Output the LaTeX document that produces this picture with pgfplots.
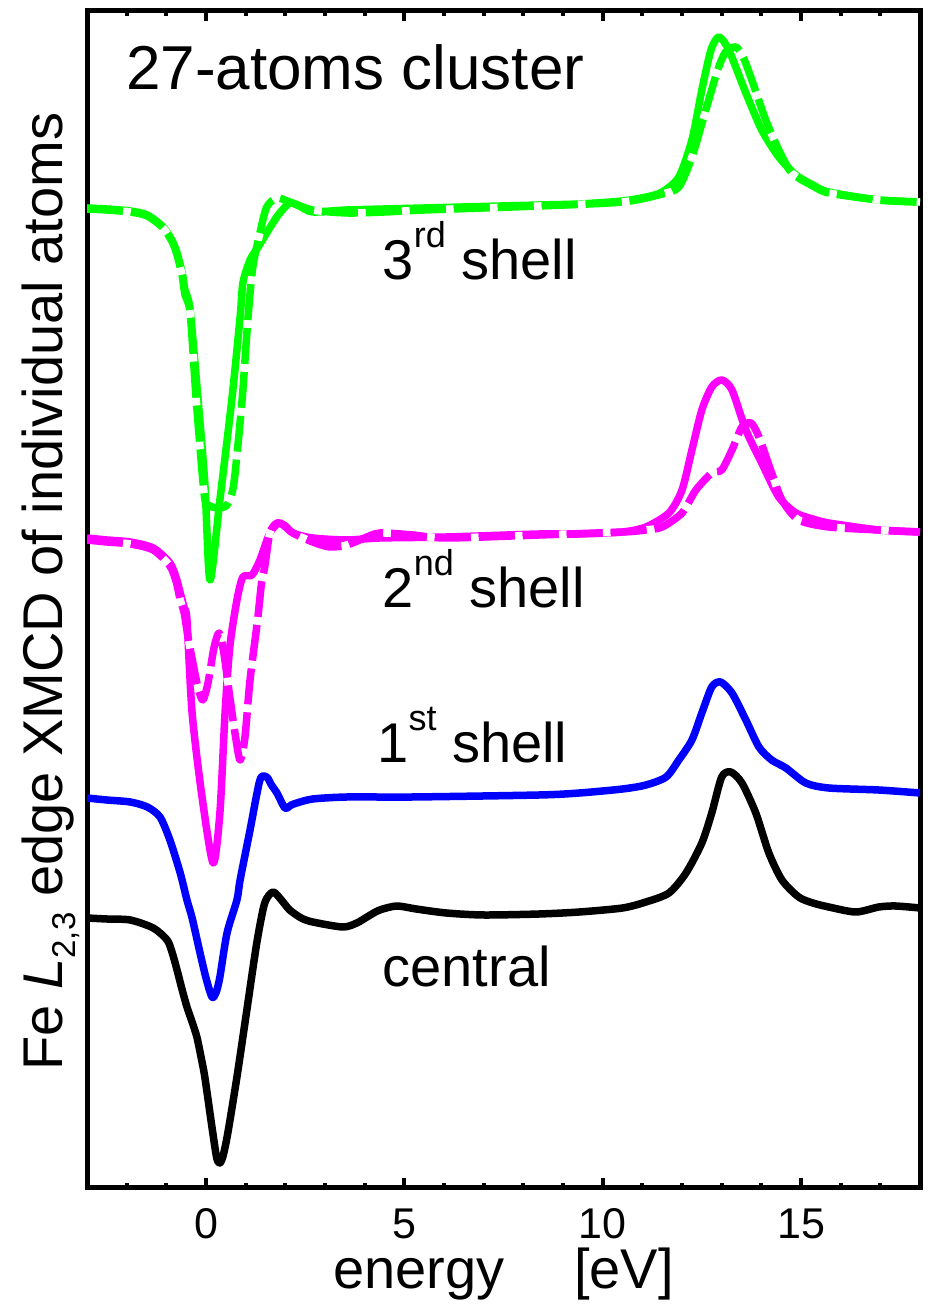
\documentclass[border=0pt]{standalone}
\usepackage{fontspec}
\setmainfont{Liberation Sans}
\usepackage{pgfplots}
\pgfplotsset{compat=1.18}

% Fe L2,3 edge XMCD spectra, curves offset vertically (arbitrary units)
\pgfplotstableread{
x y
-3 270
-2.5 269
-1.91 268
-1.33 260
-0.98 248
-0.85 235
-0.73 218
-0.6 198
-0.48 181
-0.35 166
-0.23 151
-0.12 130
-0.03 111
0.15 61
0.27 30
0.35 25
0.43 32
0.55 55
0.78 111
1.03 178
1.28 245
1.48 285
1.69 296
1.9 288
2.11 278
2.4 270
2.69 266
3.45 261
3.80 265
4.1 272
4.38 278
4.81 282
5.3 279
6.06 275
7.0 273
8.4 274
9.41 276
10.5 280
11.09 286
11.67 295
12.10 315
12.50 345
12.75 375
13.00 411
13.23 416
13.51 405
13.86 375
14.19 335
14.52 308
14.94 291
15.3 285
15.70 281
16.38 276
16.96 281
17.38 282
18 280
}\central

\pgfplotstableread{
x y
-3 390
-2.5 388
-1.91 386
-1.48 381
-1.16 371
-0.91 348
-0.65 315
-0.48 288
-0.35 270
-0.15 235
0.0 210
0.15 191
0.25 195
0.35 211
0.53 255
0.78 288
0.86 308
1.11 358
1.36 408
1.53 411
1.65 403
1.79 395
1.99 380
2.15 383
2.29 385
2.69 389
3.55 391
5.21 391
8.4 393
9.41 395
10.5 399
11.09 403
11.6 411
11.92 428
12.25 448
12.5 475
12.75 501
12.97 506
13.26 495
13.61 468
13.94 441
14.26 428
14.62 420
15.12 405
15.7 400
16.96 398
18 395
}\firstshell

\pgfplotstableread{
x y
-3 650
-2.5 648
-1.91 646
-1.33 640
-0.91 625
-0.75 610
-0.65 595
-0.55 580
-0.48 568
-0.35 475
-0.10 391
0.18 325
0.35 375
0.48 475
0.60 541
0.78 588
0.93 611
1.16 613
1.36 628
1.61 655
1.86 665
2.19 655
2.69 650
3.55 648
4.38 650
6.06 651
8.4 654
9.41 654
10.5 656
11.09 661
11.67 675
12.0 698
12.25 738
12.5 778
12.75 801
13.0 808
13.26 798
13.61 758
14.01 725
14.44 691
14.87 675
15.3 669
15.7 665
16.96 658
18 656
}\secondA

\pgfplotstableread{
x y
-3 648
-2.5 646
-1.91 644
-1.33 638
-0.91 622
-0.75 606
-0.65 588
-0.55 575
-0.45 550
-0.33 525
-0.2 500
-0.08 488
0.05 505
0.2 540
0.33 555
0.45 535
0.60 491
0.75 450
0.86 428
0.98 450
1.11 508
1.30 568
1.40 605
1.48 621
1.61 655
1.79 665
2.0 662
2.19 655
2.69 646
3.12 641
3.55 643
4.0 650
4.38 655
5.21 653
6.06 650
8.4 653
10.5 656
11.09 658
11.5 661
12.0 675
12.35 698
12.75 715
13.0 718
13.26 738
13.51 761
13.74 765
13.94 751
14.26 715
14.52 688
14.94 668
15.7 661
16.96 658
18 656
}\secondB

\pgfplotstableread{
x y
-3 980
-2.5 979
-1.91 977
-1.48 973
-1.08 961
-0.85 947
-0.73 935
-0.6 915
-0.53 898
-0.40 878
-0.20 788
-0.03 705
0.10 608
0.35 688
0.65 788
0.86 871
0.93 905
1.11 928
1.3 940
1.53 955
1.7 966
1.86 975
2.11 985
2.35 982
2.69 976
3.55 978
5.5 980
8.4 983
9.41 984
10.5 987
11.1 991
11.5 996
11.92 1011
12.25 1048
12.5 1098
12.73 1138
12.93 1151
13.18 1138
13.61 1095
14.01 1058
14.44 1031
14.87 1013
15.3 1003
15.7 996
16.96 988
18 986
}\thirdA

\pgfplotstableread{
x y
-3 979
-2.5 978
-1.91 976
-1.48 972
-1.08 960
-0.85 946
-0.73 933
-0.6 912
-0.53 893
-0.40 875
-0.25 790
-0.05 695
0.05 683
0.30 680
0.50 682
0.62 690
0.72 710
0.91 788
1.06 871
1.18 921
1.36 955
1.53 981
1.79 990
2.11 986
2.69 978
3.55 975
4.5 976
5.5 978
8.4 982
10.5 986
11.5 994
11.92 1001
12.25 1031
12.6 1078
12.9 1118
13.1 1136
13.36 1141
13.55 1130
13.76 1108
14.11 1068
14.44 1038
14.77 1015
15.3 1002
15.7 995
16.96 988
18 986
}\thirdB

\definecolor{cgreen}{RGB}{0,255,0}
\definecolor{cmagenta}{RGB}{255,0,255}
\definecolor{cblue}{RGB}{0,0,255}

\begin{document}
\begin{tikzpicture}[x=1pt,y=1pt]
\useasboundingbox (0,0) rectangle (931,1304);
\begin{axis}[
  at={(87pt,116pt)}, anchor=south west,
  scale only axis, width=833pt, height=1177pt,
  xmin=-3, xmax=18, ymin=0, ymax=1177,
  axis line style={line width=5pt},
  xtick={0,5,10,15},
  minor xtick={-2,-1,1,2,3,4,6,7,8,9,11,12,13,14,16,17},
  ytick=\empty,
  tick align=inside,
  major tick length=10pt, minor tick length=5pt,
  tick style={black, line width=4pt},
  /pgf/number format/assume math mode=true,
  tick label style={font=\fontsize{43}{43}\selectfont},
  xticklabel style={anchor=base, inner sep=0pt, yshift=-51pt},
  every axis plot/.append style={line width=7.5pt, smooth, tension=0.45, line join=round},
]
\addplot[black] table {\central};
\addplot[cblue] table {\firstshell};
\addplot[cmagenta] table {\secondA};
\addplot[white, dash pattern=on 8pt off 36pt, dash phase=8pt] table {\secondB};
\addplot[cmagenta, dash pattern=on 36pt off 8pt] table {\secondB};
\addplot[cgreen] table {\thirdA};
\addplot[white, dash pattern=on 8pt off 36pt, dash phase=8pt] table {\thirdB};
\addplot[cgreen, dash pattern=on 36pt off 8pt] table {\thirdB};

\node[anchor=base west, inner sep=0pt, font=\fontsize{62}{62}\selectfont] at (axis cs:-2.02,1098) {27-atoms cluster};
\node[anchor=base west, inner sep=0pt, font=\fontsize{56}{56}\selectfont] at (axis cs:4.45,908) {3\raisebox{32pt}{\fontsize{36}{36}\selectfont rd} shell};
\node[anchor=base west, inner sep=0pt, font=\fontsize{56}{56}\selectfont] at (axis cs:4.45,580) {2\raisebox{32pt}{\fontsize{36}{36}\selectfont nd} shell};
\node[anchor=base west, inner sep=0pt, font=\fontsize{56}{56}\selectfont] at (axis cs:4.32,425) {1\raisebox{32pt}{\fontsize{36}{36}\selectfont st} shell};
\node[anchor=base west, inner sep=0pt, font=\fontsize{56}{56}\selectfont] at (axis cs:4.45,201) {central};
\end{axis}
\node[anchor=base, inner sep=0pt, text height=40pt, font=\fontsize{56}{56}\selectfont] at (503.5,16) {energy\hspace{70pt}[eV]};
\node[rotate=90, anchor=base, inner sep=0pt, font=\fontsize{56}{56}\selectfont] at (62,712.5)
  {Fe \textit{L}\raisebox{-13pt}{\fontsize{33}{33}\selectfont 2,3} edge XMCD of individual atoms};
\end{tikzpicture}
\end{document}
